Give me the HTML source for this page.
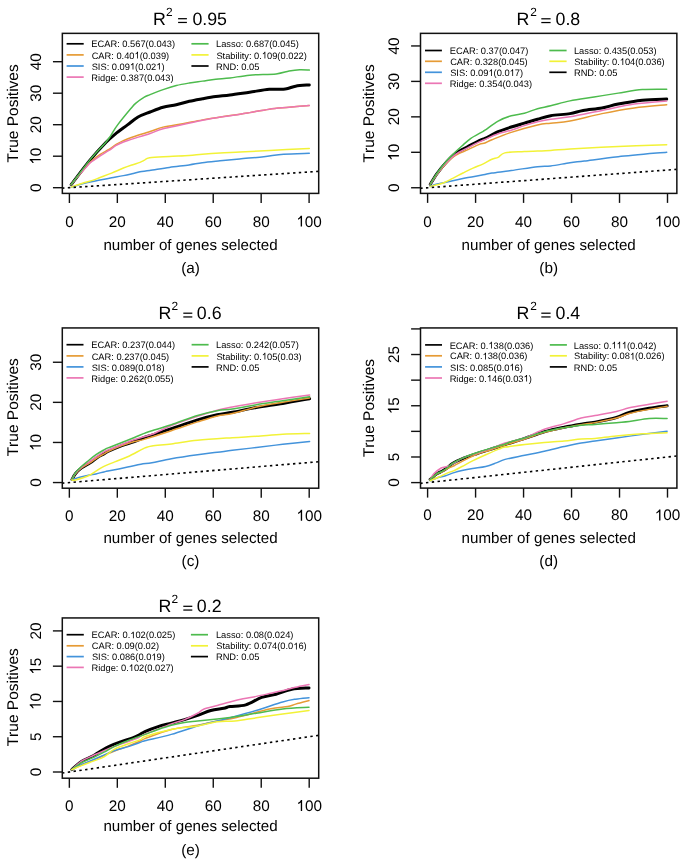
<!DOCTYPE html><html><head><meta charset="utf-8"><style>
html,body{margin:0;padding:0;background:#fff;}
svg{display:block;will-change:transform;}
text{font-kerning:none;text-rendering:geometricPrecision;font-family:"Liberation Sans", sans-serif;fill:#000;}
</style></head><body>
<svg width="685" height="860" viewBox="0 0 685 860">
<rect width="685" height="860" fill="#fff"/>
<clipPath id="clipa"><rect x="62.35" y="33.36" width="256.35" height="160.04"/></clipPath>
<g clip-path="url(#clipa)" fill="none" stroke-linejoin="round" stroke-linecap="round">
<path d="M71.2,184.61 C74.33,180.54 84.19,167.2 89.96,160.19 C95.74,153.19 101.63,146.91 105.84,142.56 C110.05,138.2 111.61,136.99 115.22,134.05 C118.82,131.11 123.67,127.75 127.48,124.91 C131.29,122.08 134.3,119.19 138.06,117.04 C141.83,114.89 145.92,113.63 150.09,112 C154.26,110.37 158.71,108.48 163.08,107.27 C167.45,106.07 171.93,105.75 176.3,104.75 C180.67,103.76 184.92,102.29 189.29,101.29 C193.66,100.29 198.11,99.56 202.52,98.77 C206.93,97.98 211.18,97.19 215.75,96.56 C220.31,95.94 224.28,95.72 229.94,94.99 C235.59,94.25 243.08,93.1 249.66,92.16 C256.23,91.21 263.44,89.84 269.38,89.32 C275.31,88.79 280.88,89.53 285.25,89 C289.62,88.48 291.58,86.85 295.59,86.17 C299.6,85.49 307.02,85.12 309.3,84.91" stroke="#000000" stroke-width="3.0"/>
<path d="M71.2,184.61 C72.41,183.11 76.06,178.44 78.42,175.63 C80.78,172.82 83.35,170.06 85.39,167.75 C87.44,165.44 88.28,163.97 90.69,161.77 C93.09,159.56 96.78,156.57 99.82,154.53 C102.87,152.48 106.24,151.17 108.96,149.49 C111.69,147.81 113.77,145.91 116.18,144.44 C118.58,142.97 120.75,141.87 123.39,140.66 C126.04,139.46 127.6,138.72 132.05,137.2 C136.5,135.68 144.92,133.21 150.09,131.53 C155.26,129.85 157.62,128.43 163.08,127.12 C168.53,125.81 176.22,124.86 182.8,123.66 C189.37,122.45 195.94,121.03 202.52,119.88 C209.09,118.72 215.99,117.67 222.24,116.72 C228.49,115.78 235.47,114.89 240.04,114.2 C244.61,113.52 244.77,113.47 249.66,112.63 C254.55,111.79 262.8,110.06 269.38,109.17 C275.95,108.27 282.44,107.91 289.1,107.27 C295.75,106.64 305.93,105.7 309.3,105.38" stroke="#E69B35" stroke-width="1.5"/>
<path d="M71.2,187.13 C73.93,186.37 82.75,183.74 87.56,182.56 C92.37,181.38 96.06,180.83 100.06,180.04 C104.07,179.25 107.72,178.57 111.61,177.83 C115.5,177.1 119.99,176.31 123.39,175.63 C126.8,174.95 129.29,174.37 132.05,173.74 C134.82,173.11 137.06,172.38 139.99,171.85 C142.91,171.32 144.72,171.32 149.61,170.59 C154.5,169.86 162.76,168.38 169.33,167.44 C175.9,166.5 183.56,165.71 189.05,164.92 C194.54,164.13 197.11,163.4 202.28,162.72 C207.45,162.03 213.86,161.45 220.07,160.82 C226.29,160.19 232.26,159.62 239.56,158.94 C246.85,158.25 256.51,157.52 263.85,156.73 C271.18,155.94 275.99,154.79 283.57,154.21 C291.14,153.63 305.01,153.42 309.3,153.26" stroke="#4393DB" stroke-width="1.5"/>
<path d="M71.2,184.61 C72.41,183.11 76.06,178.39 78.42,175.63 C80.78,172.87 83.35,170.27 85.39,168.07 C87.44,165.87 88.28,164.4 90.69,162.4 C93.09,160.41 96.78,158.09 99.82,156.1 C102.87,154.1 106.24,152.22 108.96,150.43 C111.69,148.65 113.77,146.81 116.18,145.39 C118.58,143.97 120.75,142.98 123.39,141.93 C126.04,140.88 127.6,140.51 132.05,139.09 C136.5,137.67 144.92,135.15 150.09,133.42 C155.26,131.69 157.62,130.16 163.08,128.69 C168.53,127.22 176.22,126.02 182.8,124.6 C189.37,123.18 195.94,121.5 202.52,120.19 C209.09,118.88 215.99,117.72 222.24,116.72 C228.49,115.73 235.47,114.89 240.04,114.2 C244.61,113.52 244.77,113.47 249.66,112.63 C254.55,111.79 262.8,110.06 269.38,109.17 C275.95,108.27 282.44,107.91 289.1,107.27 C295.75,106.64 305.93,105.7 309.3,105.38" stroke="#EB76B4" stroke-width="1.5"/>
<path d="M71.2,184.61 C74.33,180.49 84.19,166.94 89.96,159.88 C95.74,152.82 102.35,146.34 105.84,142.24 C109.32,138.15 108.92,138.2 110.89,135.31 C112.85,132.42 114.29,129.38 117.62,124.91 C120.95,120.45 127.8,112.16 130.85,108.53 C133.9,104.91 133.65,105.07 135.9,103.18 C138.14,101.29 141.95,98.61 144.32,97.19 C146.68,95.78 146.96,95.94 150.09,94.67 C153.22,93.41 158.71,91.16 163.08,89.63 C167.45,88.11 171.93,86.64 176.3,85.54 C180.67,84.44 184.92,83.75 189.29,83.02 C193.66,82.28 198.11,81.76 202.52,81.13 C206.93,80.5 211.18,79.77 215.75,79.24 C220.31,78.71 224.28,78.66 229.94,77.98 C235.59,77.3 241.96,75.83 249.66,75.14 C257.35,74.46 269.54,74.57 276.11,73.88 C282.68,73.2 285.17,71.73 289.1,71.05 C293.03,70.37 296.31,69.95 299.68,69.79 C303.05,69.63 307.7,70.05 309.3,70.11" stroke="#4DBB4D" stroke-width="1.5"/>
<path d="M71.2,187.13 C73.09,186.47 78.94,184.32 82.51,183.19 C86.08,182.06 89.68,181.3 92.61,180.35 C95.54,179.41 96.9,178.73 100.06,177.52 C103.23,176.31 107.72,174.68 111.61,173.11 C115.5,171.53 119.99,169.44 123.39,168.07 C126.8,166.7 129.29,165.86 132.05,164.92 C134.82,163.97 137.9,163.19 139.99,162.4 C142.07,161.61 142.95,160.98 144.56,160.19 C146.16,159.41 145.48,158.3 149.61,157.67 C153.74,157.04 162.76,156.78 169.33,156.41 C175.9,156.05 183.56,155.84 189.05,155.47 C194.54,155.1 197.11,154.63 202.28,154.21 C207.45,153.79 213.78,153.32 220.07,152.95 C226.37,152.58 231.74,152.42 240.04,152 C248.33,151.59 258.31,151.01 269.86,150.43 C281.4,149.85 302.73,148.85 309.3,148.54" stroke="#F2F237" stroke-width="1.5"/>
<line x1="62.35" y1="188.16" x2="318.7" y2="171.32" stroke="#000" stroke-width="1.6" stroke-dasharray="2.400 3.387" stroke-dashoffset="0.3" stroke-linecap="butt"/>
</g>
<rect x="62.35" y="33.36" width="256.35" height="160.04" fill="none" stroke="#111" stroke-width="1.5"/>
<line x1="69.4" y1="193.4" x2="69.4" y2="203" stroke="#111" stroke-width="1.4"/>
<text x="65.15" y="226.60" font-size="15.3" fill="#000">0</text>
<line x1="117.34" y1="193.4" x2="117.34" y2="203" stroke="#111" stroke-width="1.4"/>
<text x="108.83" y="226.60" font-size="15.3" fill="#000">20</text>
<line x1="165.28" y1="193.4" x2="165.28" y2="203" stroke="#111" stroke-width="1.4"/>
<text x="156.77" y="226.60" font-size="15.3" fill="#000">40</text>
<line x1="213.22" y1="193.4" x2="213.22" y2="203" stroke="#111" stroke-width="1.4"/>
<text x="204.71" y="226.60" font-size="15.3" fill="#000">60</text>
<line x1="261.16" y1="193.4" x2="261.16" y2="203" stroke="#111" stroke-width="1.4"/>
<text x="252.65" y="226.60" font-size="15.3" fill="#000">80</text>
<line x1="309.1" y1="193.4" x2="309.1" y2="203" stroke="#111" stroke-width="1.4"/>
<text x="296.34" y="226.60" font-size="15.3" fill="#000"> 00</text><polygon points="302.04,226.60 300.69,226.60 300.69,218.03 300.07,218.57 299.32,219.05 298.58,219.47 298.00,219.69 298.00,218.38 298.80,217.93 299.62,217.26 300.22,216.59 300.59,215.99 300.74,215.65 302.04,215.65" fill="#000"/>
<line x1="52.95" y1="187.7" x2="62.35" y2="187.7" stroke="#111" stroke-width="1.4"/>
<line x1="52.95" y1="156.2" x2="62.35" y2="156.2" stroke="#111" stroke-width="1.4"/>
<line x1="52.95" y1="124.7" x2="62.35" y2="124.7" stroke="#111" stroke-width="1.4"/>
<line x1="52.95" y1="93.2" x2="62.35" y2="93.2" stroke="#111" stroke-width="1.4"/>
<line x1="52.95" y1="61.7" x2="62.35" y2="61.7" stroke="#111" stroke-width="1.4"/>
<g transform="translate(40.70,187.70) rotate(-90)"><text x="-4.25" y="0.00" font-size="15.3" fill="#000">0</text></g>
<g transform="translate(40.70,156.20) rotate(-90)"><text x="-8.51" y="0.00" font-size="15.3" fill="#000"> 0</text><polygon points="-2.81,0.00 -4.15,0.00 -4.15,-8.57 -4.77,-8.03 -5.52,-7.55 -6.27,-7.13 -6.84,-6.91 -6.84,-8.22 -6.04,-8.67 -5.22,-9.34 -4.62,-10.01 -4.25,-10.61 -4.10,-10.95 -2.81,-10.95" fill="#000"/></g>
<g transform="translate(40.70,124.70) rotate(-90)"><text x="-8.51" y="0.00" font-size="15.3" fill="#000">20</text></g>
<g transform="translate(40.70,93.20) rotate(-90)"><text x="-8.51" y="0.00" font-size="15.3" fill="#000">30</text></g>
<g transform="translate(40.70,61.70) rotate(-90)"><text x="-8.51" y="0.00" font-size="15.3" fill="#000">40</text></g>
<text transform="translate(17.6,113.38) rotate(-90)" text-anchor="middle" font-size="15.5">True Positives</text>
<text x="190.53" y="250" text-anchor="middle" font-size="15.15">number of genes selected</text>
<text x="190.53" y="273.4" text-anchor="middle" font-size="15.3">(a)</text>
<text x="152.94" y="24.6" font-size="17.8">R</text>
<text x="165.91" y="15.51" font-size="11.9">2</text>
<line x1="178.1" y1="18.7" x2="186.9" y2="18.7" stroke="#000" stroke-width="1.25"/>
<line x1="178.1" y1="22.45" x2="186.9" y2="22.45" stroke="#000" stroke-width="1.25"/>
<text x="192.41" y="24.6" font-size="17.8">0.95</text>
<line x1="66.6" y1="43.8" x2="83.7" y2="43.8" stroke="#000000" stroke-width="1.7"/>
<text x="91.34" y="47.40" font-size="9.3" fill="#000">ECAR: 0.567(0.043)</text>
<line x1="66.6" y1="54.9" x2="83.7" y2="54.9" stroke="#E69B35" stroke-width="1.7"/>
<text x="91.63" y="58.50" font-size="9.3" fill="#000">CAR: 0.40 (0.039)</text><polygon points="138.00,58.50 137.19,58.50 137.19,53.29 136.81,53.62 136.35,53.91 135.90,54.16 135.55,54.30 135.55,53.50 136.04,53.23 136.54,52.82 136.90,52.42 137.13,52.05 137.22,51.84 138.00,51.84" fill="#000"/>
<line x1="66.6" y1="66" x2="83.7" y2="66" stroke="#4393DB" stroke-width="1.7"/>
<text x="91.68" y="69.60" font-size="9.3" fill="#000">SIS: 0.09 (0.02 )</text><polygon points="133.40,69.60 132.59,69.60 132.59,64.39 132.21,64.72 131.76,65.01 131.30,65.26 130.95,65.40 130.95,64.60 131.44,64.33 131.94,63.92 132.30,63.52 132.53,63.15 132.62,62.94 133.40,62.94" fill="#000"/><polygon points="159.77,69.60 158.96,69.60 158.96,64.39 158.58,64.72 158.13,65.01 157.67,65.26 157.32,65.40 157.32,64.60 157.81,64.33 158.31,63.92 158.67,63.52 158.90,63.15 158.99,62.94 159.77,62.94" fill="#000"/>
<line x1="66.6" y1="77.1" x2="83.7" y2="77.1" stroke="#EB76B4" stroke-width="1.7"/>
<text x="91.34" y="80.70" font-size="9.3" fill="#000">Ridge: 0.387(0.043)</text>
<line x1="191.4" y1="43.8" x2="208.6" y2="43.8" stroke="#4DBB4D" stroke-width="1.7"/>
<text x="216.04" y="47.40" font-size="9.3" fill="#000">Lasso: 0.687(0.045)</text>
<line x1="191.4" y1="54.9" x2="208.6" y2="54.9" stroke="#F2F237" stroke-width="1.7"/>
<text x="216.38" y="58.50" font-size="9.3" fill="#000">Stability: 0. 09(0.022)</text><polygon points="265.33,58.50 264.52,58.50 264.52,53.29 264.14,53.62 263.69,53.91 263.23,54.16 262.88,54.30 262.88,53.50 263.37,53.23 263.87,52.82 264.23,52.42 264.46,52.05 264.55,51.84 265.33,51.84" fill="#000"/>
<line x1="191.4" y1="66" x2="208.6" y2="66" stroke="#000000" stroke-width="1.7"/>
<text x="216.04" y="69.60" font-size="9.3" fill="#000">RND: 0.05</text>
<clipPath id="clipb"><rect x="420.5" y="33.36" width="256.35" height="160.04"/></clipPath>
<g clip-path="url(#clipb)" fill="none" stroke-linejoin="round" stroke-linecap="round">
<path d="M430.29,184.32 C431.44,182.49 434.51,177.07 437.21,173.36 C439.92,169.65 443.46,165.35 446.53,162.05 C449.59,158.75 452.02,156.16 455.6,153.56 C459.18,150.97 464.08,148.67 468.02,146.49 C471.96,144.31 476.42,141.84 479.24,140.48 C482.07,139.13 482.86,139.31 484.97,138.36 C487.08,137.42 489.71,135.95 491.9,134.83 C494.09,133.71 494.88,132.94 498.11,131.65 C501.33,130.35 506.86,128.47 511.24,127.05 C515.62,125.64 520,124.46 524.38,123.16 C528.75,121.87 533.13,120.51 537.51,119.27 C541.89,118.04 545.23,116.68 550.64,115.74 C556.06,114.8 564.57,114.5 569.99,113.62 C575.4,112.73 577.79,111.38 583.12,110.44 C588.45,109.49 596.13,109.02 601.99,107.96 C607.84,106.9 611.5,105.37 618.22,104.07 C624.95,102.78 634.26,101.01 642.34,100.19 C650.42,99.36 662.64,99.3 666.7,99.12" stroke="#000000" stroke-width="3.0"/>
<path d="M430.29,184.32 C431.44,182.61 434.51,177.6 437.21,174.07 C439.92,170.53 443.46,166.23 446.53,163.11 C449.59,159.99 452.02,157.57 455.6,155.33 C459.18,153.09 464.08,151.5 468.02,149.68 C471.96,147.85 476.42,145.49 479.24,144.37 C482.07,143.25 482.86,143.72 484.97,142.96 C487.08,142.19 487.52,141.55 491.9,139.78 C496.28,138.01 503.64,134.83 511.24,132.35 C518.84,129.88 530.94,126.46 537.51,124.93 C544.08,123.4 545.23,123.81 550.64,123.16 C556.06,122.51 561.43,122.63 569.99,121.04 C578.54,119.45 591.28,115.8 601.99,113.62 C612.69,111.44 623.44,109.44 634.22,107.96 C645.01,106.49 661.29,105.31 666.7,104.78" stroke="#E69B35" stroke-width="1.5"/>
<path d="M430.29,186.44 C431.44,186.03 433.47,184.91 437.21,183.97 C440.95,183.02 447.6,181.84 452.74,180.78 C457.87,179.72 462.92,178.6 468.02,177.6 C473.11,176.6 479.32,175.54 483.3,174.77 C487.28,174.01 487.24,173.71 491.9,173.01 C496.55,172.3 503.64,171.59 511.24,170.53 C518.84,169.47 530.94,167.41 537.51,166.64 C544.08,165.88 545.23,166.58 550.64,165.94 C556.06,165.29 564.37,163.58 569.99,162.75 C575.6,161.93 576.27,161.99 584.31,160.99 C592.35,159.99 604.49,158.22 618.22,156.75 C631.95,155.27 658.62,152.92 666.7,152.15" stroke="#4393DB" stroke-width="1.5"/>
<path d="M430.29,184.32 C431.44,182.55 434.51,177.37 437.21,173.71 C439.92,170.06 443.46,165.64 446.53,162.4 C449.59,159.16 452.02,156.75 455.6,154.27 C459.18,151.8 464.08,149.62 468.02,147.55 C471.96,145.49 476.42,143.25 479.24,141.9 C482.07,140.54 481.83,140.78 484.97,139.42 C488.12,138.07 493.73,135.3 498.11,133.77 C502.49,132.24 506.86,131.59 511.24,130.23 C515.62,128.88 520,127.05 524.38,125.64 C528.75,124.22 533.13,122.81 537.51,121.75 C541.89,120.69 545.23,120.1 550.64,119.27 C556.06,118.45 561.43,118.27 569.99,116.8 C578.54,115.33 591.28,112.56 601.99,110.44 C612.69,108.32 623.44,105.66 634.22,104.07 C645.01,102.48 661.29,101.42 666.7,100.89" stroke="#EB76B4" stroke-width="1.5"/>
<path d="M430.29,184.32 C431.44,182.43 434.51,176.89 437.21,173.01 C439.92,169.12 443.46,164.52 446.53,160.99 C449.59,157.45 452.85,154.45 455.6,151.8 C458.35,149.15 460.46,147.32 463,145.08 C465.55,142.84 467.82,140.48 470.88,138.36 C473.95,136.24 479.04,133.71 481.39,132.35 C483.74,131 482.19,132.12 484.97,130.23 C487.76,128.35 493.73,123.46 498.11,121.04 C502.49,118.63 506.86,117.04 511.24,115.74 C515.62,114.44 520,114.44 524.38,113.27 C528.75,112.09 533.13,109.91 537.51,108.67 C541.89,107.43 545.23,107.14 550.64,105.84 C556.06,104.55 562.74,102.37 569.99,100.89 C577.23,99.42 586.07,98.3 594.1,97 C602.14,95.71 610.18,94.35 618.22,93.12 C626.26,91.88 634.26,90.23 642.34,89.58 C650.42,88.93 662.64,89.29 666.7,89.23" stroke="#4DBB4D" stroke-width="1.5"/>
<path d="M430.29,186.44 C432.32,185.91 438.73,184.61 442.47,183.26 C446.21,181.9 449.31,180.02 452.74,178.31 C456.16,176.6 459.62,174.72 463,173.01 C466.39,171.3 469.65,169.59 473.03,168.06 C476.42,166.53 480.16,165.29 483.3,163.82 C486.45,162.34 489.43,160.28 491.9,159.22 C494.37,158.16 495.96,158.51 498.11,157.45 C500.26,156.39 500.42,153.86 504.79,152.86 C509.17,151.86 516.73,151.86 524.38,151.44 C532.02,151.03 543.04,150.79 550.64,150.38 C558.25,149.97 558.72,149.62 569.99,148.97 C581.25,148.32 602.1,147.2 618.22,146.49 C634.34,145.79 658.62,145.02 666.7,144.73" stroke="#F2F237" stroke-width="1.5"/>
<line x1="420.5" y1="188.27" x2="676.85" y2="169.33" stroke="#000" stroke-width="1.6" stroke-dasharray="2.400 3.391" stroke-dashoffset="0.3" stroke-linecap="butt"/>
</g>
<rect x="420.5" y="33.36" width="256.35" height="160.04" fill="none" stroke="#111" stroke-width="1.5"/>
<line x1="427.6" y1="193.4" x2="427.6" y2="202.9" stroke="#111" stroke-width="1.4"/>
<text x="423.35" y="226.60" font-size="15.3" fill="#000">0</text>
<line x1="475.58" y1="193.4" x2="475.58" y2="202.9" stroke="#111" stroke-width="1.4"/>
<text x="467.07" y="226.60" font-size="15.3" fill="#000">20</text>
<line x1="523.56" y1="193.4" x2="523.56" y2="202.9" stroke="#111" stroke-width="1.4"/>
<text x="515.05" y="226.60" font-size="15.3" fill="#000">40</text>
<line x1="571.54" y1="193.4" x2="571.54" y2="202.9" stroke="#111" stroke-width="1.4"/>
<text x="563.03" y="226.60" font-size="15.3" fill="#000">60</text>
<line x1="619.52" y1="193.4" x2="619.52" y2="202.9" stroke="#111" stroke-width="1.4"/>
<text x="611.01" y="226.60" font-size="15.3" fill="#000">80</text>
<line x1="667.5" y1="193.4" x2="667.5" y2="202.9" stroke="#111" stroke-width="1.4"/>
<text x="654.74" y="226.60" font-size="15.3" fill="#000"> 00</text><polygon points="660.44,226.60 659.09,226.60 659.09,218.03 658.47,218.57 657.72,219.05 656.98,219.47 656.40,219.69 656.40,218.38 657.20,217.93 658.02,217.26 658.62,216.59 658.99,215.99 659.14,215.65 660.44,215.65" fill="#000"/>
<line x1="411.1" y1="187.75" x2="420.5" y2="187.75" stroke="#111" stroke-width="1.4"/>
<line x1="411.1" y1="152.3" x2="420.5" y2="152.3" stroke="#111" stroke-width="1.4"/>
<line x1="411.1" y1="116.85" x2="420.5" y2="116.85" stroke="#111" stroke-width="1.4"/>
<line x1="411.1" y1="81.4" x2="420.5" y2="81.4" stroke="#111" stroke-width="1.4"/>
<line x1="411.1" y1="45.95" x2="420.5" y2="45.95" stroke="#111" stroke-width="1.4"/>
<g transform="translate(398.90,187.75) rotate(-90)"><text x="-4.25" y="0.00" font-size="15.3" fill="#000">0</text></g>
<g transform="translate(398.90,152.30) rotate(-90)"><text x="-8.51" y="0.00" font-size="15.3" fill="#000"> 0</text><polygon points="-2.81,0.00 -4.15,0.00 -4.15,-8.57 -4.77,-8.03 -5.52,-7.55 -6.27,-7.13 -6.84,-6.91 -6.84,-8.22 -6.04,-8.67 -5.22,-9.34 -4.62,-10.01 -4.25,-10.61 -4.10,-10.95 -2.81,-10.95" fill="#000"/></g>
<g transform="translate(398.90,116.85) rotate(-90)"><text x="-8.51" y="0.00" font-size="15.3" fill="#000">20</text></g>
<g transform="translate(398.90,81.40) rotate(-90)"><text x="-8.51" y="0.00" font-size="15.3" fill="#000">30</text></g>
<g transform="translate(398.90,45.95) rotate(-90)"><text x="-8.51" y="0.00" font-size="15.3" fill="#000">40</text></g>
<text transform="translate(373.6,113.38) rotate(-90)" text-anchor="middle" font-size="15.5">True Positives</text>
<text x="548.67" y="250.3" text-anchor="middle" font-size="15.15">number of genes selected</text>
<text x="548.67" y="273.4" text-anchor="middle" font-size="15.3">(b)</text>
<text x="516.54" y="24.7" font-size="17.8">R</text>
<text x="530.3" y="15.71" font-size="11.9">2</text>
<line x1="541.3" y1="18.8" x2="550.6" y2="18.8" stroke="#000" stroke-width="1.25"/>
<line x1="541.3" y1="22.55" x2="550.6" y2="22.55" stroke="#000" stroke-width="1.25"/>
<text x="555.51" y="24.7" font-size="17.8">0.8</text>
<line x1="425" y1="50.5" x2="441.9" y2="50.5" stroke="#000000" stroke-width="1.7"/>
<text x="449.84" y="54.10" font-size="9.3" fill="#000">ECAR: 0.37(0.047)</text>
<line x1="425" y1="61.3" x2="441.9" y2="61.3" stroke="#E69B35" stroke-width="1.7"/>
<text x="450.14" y="64.90" font-size="9.3" fill="#000">CAR: 0.328(0.045)</text>
<line x1="425" y1="72.3" x2="441.9" y2="72.3" stroke="#4393DB" stroke-width="1.7"/>
<text x="450.18" y="75.90" font-size="9.3" fill="#000">SIS: 0.09 (0.0 7)</text><polygon points="491.90,75.90 491.09,75.90 491.09,70.69 490.71,71.02 490.26,71.31 489.80,71.56 489.45,71.70 489.45,70.90 489.94,70.63 490.44,70.22 490.80,69.82 491.03,69.45 491.12,69.24 491.90,69.24" fill="#000"/><polygon points="513.10,75.90 512.28,75.90 512.28,70.69 511.91,71.02 511.45,71.31 511.00,71.56 510.65,71.70 510.65,70.90 511.14,70.63 511.64,70.22 512.00,69.82 512.23,69.45 512.32,69.24 513.10,69.24" fill="#000"/>
<line x1="425" y1="83.3" x2="441.9" y2="83.3" stroke="#EB76B4" stroke-width="1.7"/>
<text x="449.84" y="86.90" font-size="9.3" fill="#000">Ridge: 0.354(0.043)</text>
<line x1="549.3" y1="50.5" x2="566.6" y2="50.5" stroke="#4DBB4D" stroke-width="1.7"/>
<text x="573.94" y="54.10" font-size="9.3" fill="#000">Lasso: 0.435(0.053)</text>
<line x1="549.3" y1="61.3" x2="566.6" y2="61.3" stroke="#F2F237" stroke-width="1.7"/>
<text x="574.28" y="64.90" font-size="9.3" fill="#000">Stability: 0. 04(0.036)</text><polygon points="623.23,64.90 622.42,64.90 622.42,59.69 622.04,60.02 621.59,60.31 621.13,60.56 620.78,60.70 620.78,59.90 621.27,59.63 621.77,59.22 622.13,58.82 622.36,58.45 622.45,58.24 623.23,58.24" fill="#000"/>
<line x1="549.3" y1="72.3" x2="566.6" y2="72.3" stroke="#000000" stroke-width="1.7"/>
<text x="573.94" y="75.90" font-size="9.3" fill="#000">RND: 0.05</text>
<clipPath id="clipc"><rect x="62.3" y="327.94" width="256.4" height="160.26"/></clipPath>
<g clip-path="url(#clipc)" fill="none" stroke-linejoin="round" stroke-linecap="round">
<path d="M72,479.5 C72.6,478.5 74,475.43 75.6,473.5 C77.2,471.57 79.16,469.7 81.6,467.9 C84.04,466.1 87.6,464.43 90.24,462.7 C92.88,460.97 95.16,458.97 97.44,457.5 C99.72,456.03 102.16,454.9 103.92,453.9 C105.68,452.9 105.12,452.83 108,451.5 C110.88,450.17 116.8,447.57 121.2,445.9 C125.6,444.23 130.44,442.97 134.4,441.5 C138.36,440.03 142.04,438.17 144.96,437.1 C147.88,436.03 147.52,436.5 151.92,435.1 C156.32,433.7 163.76,431.23 171.36,428.7 C178.96,426.17 189.88,422.23 197.52,419.9 C205.16,417.57 211.4,415.97 217.2,414.7 C223,413.43 225.8,413.5 232.32,412.3 C238.84,411.1 247.92,408.97 256.32,407.5 C264.72,406.03 273.84,404.97 282.72,403.5 C291.6,402.03 305.12,399.5 309.6,398.7" stroke="#000000" stroke-width="3.0"/>
<path d="M72,479.5 C72.6,478.5 74,475.43 75.6,473.5 C77.2,471.57 79.16,469.7 81.6,467.9 C84.04,466.1 87.6,464.43 90.24,462.7 C92.88,460.97 95.16,458.97 97.44,457.5 C99.72,456.03 102.16,454.9 103.92,453.9 C105.68,452.9 105.12,452.83 108,451.5 C110.88,450.17 116.8,447.57 121.2,445.9 C125.6,444.23 130.44,442.63 134.4,441.5 C138.36,440.37 138.8,440.9 144.96,439.1 C151.12,437.3 162.6,433.57 171.36,430.7 C180.12,427.83 189.88,424.37 197.52,421.9 C205.16,419.43 211.4,417.3 217.2,415.9 C223,414.5 225.8,414.97 232.32,413.5 C238.84,412.03 247.92,408.97 256.32,407.1 C264.72,405.23 273.84,403.83 282.72,402.3 C291.6,400.77 305.12,398.63 309.6,397.9" stroke="#E69B35" stroke-width="1.5"/>
<path d="M72,480.1 C72.6,479.83 73.04,479.27 75.6,478.5 C78.16,477.73 83.96,476.27 87.36,475.5 C90.76,474.73 93.24,474.5 96,473.9 C98.76,473.3 101.92,472.37 103.92,471.9 C105.92,471.43 104.04,471.9 108,471.1 C111.96,470.3 122.2,468.23 127.68,467.1 C133.16,465.97 136.84,465.03 140.88,464.3 C144.92,463.57 146.84,463.63 151.92,462.7 C157,461.77 163.76,460.03 171.36,458.7 C178.96,457.37 189.88,455.77 197.52,454.7 C205.16,453.63 211.4,453.03 217.2,452.3 C223,451.57 225.8,451.1 232.32,450.3 C238.84,449.5 247.92,448.5 256.32,447.5 C264.72,446.5 273.84,445.3 282.72,444.3 C291.6,443.3 305.12,441.97 309.6,441.5" stroke="#4393DB" stroke-width="1.5"/>
<path d="M72,479.5 C72.6,478.43 74,475.17 75.6,473.1 C77.2,471.03 79.16,469.1 81.6,467.1 C84.04,465.1 87.6,462.97 90.24,461.1 C92.88,459.23 95.16,457.43 97.44,455.9 C99.72,454.37 102.16,452.9 103.92,451.9 C105.68,450.9 105.12,451.1 108,449.9 C110.88,448.7 116.8,446.43 121.2,444.7 C125.6,442.97 129.28,441.23 134.4,439.5 C139.52,437.77 145.76,436.63 151.92,434.3 C158.08,431.97 163.76,428.5 171.36,425.5 C178.96,422.5 189.88,418.83 197.52,416.3 C205.16,413.77 211.4,411.83 217.2,410.3 C223,408.77 225.8,408.37 232.32,407.1 C238.84,405.83 247.92,404.1 256.32,402.7 C264.72,401.3 273.84,399.97 282.72,398.7 C291.6,397.43 305.12,395.7 309.6,395.1" stroke="#EB76B4" stroke-width="1.5"/>
<path d="M72,479.5 C72.6,478.37 74,474.9 75.6,472.7 C77.2,470.5 79.64,468.17 81.6,466.3 C83.56,464.43 84.96,463.43 87.36,461.5 C89.76,459.57 93.24,456.63 96,454.7 C98.76,452.77 101.92,451.03 103.92,449.9 C105.92,448.77 105.12,449.1 108,447.9 C110.88,446.7 116.8,444.43 121.2,442.7 C125.6,440.97 130.44,439.1 134.4,437.5 C138.36,435.9 142.04,434.23 144.96,433.1 C147.88,431.97 147.52,432.1 151.92,430.7 C156.32,429.3 163.76,427.23 171.36,424.7 C178.96,422.17 189.88,417.83 197.52,415.5 C205.16,413.17 211.4,411.77 217.2,410.7 C223,409.63 225.8,410.1 232.32,409.1 C238.84,408.1 247.92,406.1 256.32,404.7 C264.72,403.3 273.84,402.03 282.72,400.7 C291.6,399.37 305.12,397.37 309.6,396.7" stroke="#4DBB4D" stroke-width="1.5"/>
<path d="M72,480.1 C72.6,480.07 73.04,480.53 75.6,479.9 C78.16,479.27 83.96,477.77 87.36,476.3 C90.76,474.83 93.24,472.77 96,471.1 C98.76,469.43 100.8,467.83 103.92,466.3 C107.04,464.77 110.76,463.5 114.72,461.9 C118.68,460.3 123.32,458.7 127.68,456.7 C132.04,454.7 138,451.37 140.88,449.9 C143.76,448.43 143.12,448.57 144.96,447.9 C146.8,447.23 147.52,446.57 151.92,445.9 C156.32,445.23 163.76,444.83 171.36,443.9 C178.96,442.97 187.36,441.33 197.52,440.3 C207.68,439.27 222.52,438.37 232.32,437.7 C242.12,437.03 247.92,436.87 256.32,436.3 C264.72,435.73 273.84,434.77 282.72,434.3 C291.6,433.83 305.12,433.63 309.6,433.5" stroke="#F2F237" stroke-width="1.5"/>
<line x1="62.3" y1="483.14" x2="318.7" y2="461.71" stroke="#000" stroke-width="1.6" stroke-dasharray="2.400 3.395" stroke-dashoffset="0.3" stroke-linecap="butt"/>
</g>
<rect x="62.3" y="327.94" width="256.4" height="160.26" fill="none" stroke="#111" stroke-width="1.5"/>
<line x1="69.35" y1="488.2" x2="69.35" y2="497.7" stroke="#111" stroke-width="1.4"/>
<text x="65.10" y="520.80" font-size="15.3" fill="#000">0</text>
<line x1="117.32" y1="488.2" x2="117.32" y2="497.7" stroke="#111" stroke-width="1.4"/>
<text x="108.81" y="520.80" font-size="15.3" fill="#000">20</text>
<line x1="165.29" y1="488.2" x2="165.29" y2="497.7" stroke="#111" stroke-width="1.4"/>
<text x="156.78" y="520.80" font-size="15.3" fill="#000">40</text>
<line x1="213.26" y1="488.2" x2="213.26" y2="497.7" stroke="#111" stroke-width="1.4"/>
<text x="204.75" y="520.80" font-size="15.3" fill="#000">60</text>
<line x1="261.23" y1="488.2" x2="261.23" y2="497.7" stroke="#111" stroke-width="1.4"/>
<text x="252.72" y="520.80" font-size="15.3" fill="#000">80</text>
<line x1="309.2" y1="488.2" x2="309.2" y2="497.7" stroke="#111" stroke-width="1.4"/>
<text x="296.44" y="520.80" font-size="15.3" fill="#000"> 00</text><polygon points="302.14,520.80 300.79,520.80 300.79,512.23 300.17,512.77 299.42,513.25 298.68,513.67 298.10,513.89 298.10,512.58 298.90,512.13 299.72,511.46 300.32,510.79 300.69,510.19 300.84,509.85 302.14,509.85" fill="#000"/>
<line x1="52.9" y1="482.55" x2="62.3" y2="482.55" stroke="#111" stroke-width="1.4"/>
<line x1="52.9" y1="442.45" x2="62.3" y2="442.45" stroke="#111" stroke-width="1.4"/>
<line x1="52.9" y1="402.35" x2="62.3" y2="402.35" stroke="#111" stroke-width="1.4"/>
<line x1="52.9" y1="362.25" x2="62.3" y2="362.25" stroke="#111" stroke-width="1.4"/>
<g transform="translate(40.80,482.55) rotate(-90)"><text x="-4.25" y="0.00" font-size="15.3" fill="#000">0</text></g>
<g transform="translate(40.80,442.45) rotate(-90)"><text x="-8.51" y="0.00" font-size="15.3" fill="#000"> 0</text><polygon points="-2.81,0.00 -4.15,0.00 -4.15,-8.57 -4.77,-8.03 -5.52,-7.55 -6.27,-7.13 -6.84,-6.91 -6.84,-8.22 -6.04,-8.67 -5.22,-9.34 -4.62,-10.01 -4.25,-10.61 -4.10,-10.95 -2.81,-10.95" fill="#000"/></g>
<g transform="translate(40.80,402.35) rotate(-90)"><text x="-8.51" y="0.00" font-size="15.3" fill="#000">20</text></g>
<g transform="translate(40.80,362.25) rotate(-90)"><text x="-8.51" y="0.00" font-size="15.3" fill="#000">30</text></g>
<text transform="translate(18.1,407.27) rotate(-90)" text-anchor="middle" font-size="15.5">True Positives</text>
<text x="190.5" y="542.8" text-anchor="middle" font-size="15.15">number of genes selected</text>
<text x="190.5" y="565.6" text-anchor="middle" font-size="15.3">(c)</text>
<text x="158.54" y="319.1" font-size="17.8">R</text>
<text x="171.5" y="310.01" font-size="11.9">2</text>
<line x1="183.3" y1="313.2" x2="192.3" y2="313.2" stroke="#000" stroke-width="1.25"/>
<line x1="183.3" y1="316.95" x2="192.3" y2="316.95" stroke="#000" stroke-width="1.25"/>
<text x="196.81" y="319.1" font-size="17.8">0.6</text>
<line x1="66.5" y1="344.7" x2="83.5" y2="344.7" stroke="#000000" stroke-width="1.7"/>
<text x="91.34" y="348.30" font-size="9.3" fill="#000">ECAR: 0.237(0.044)</text>
<line x1="66.5" y1="355.9" x2="83.5" y2="355.9" stroke="#E69B35" stroke-width="1.7"/>
<text x="91.63" y="359.50" font-size="9.3" fill="#000">CAR: 0.237(0.045)</text>
<line x1="66.5" y1="366.9" x2="83.5" y2="366.9" stroke="#4393DB" stroke-width="1.7"/>
<text x="91.68" y="370.50" font-size="9.3" fill="#000">SIS: 0.089(0.0 8)</text><polygon points="154.60,370.50 153.78,370.50 153.78,365.29 153.41,365.62 152.95,365.91 152.50,366.16 152.15,366.30 152.15,365.50 152.64,365.23 153.14,364.82 153.50,364.42 153.73,364.05 153.82,363.84 154.60,363.84" fill="#000"/>
<line x1="66.5" y1="377.9" x2="83.5" y2="377.9" stroke="#EB76B4" stroke-width="1.7"/>
<text x="91.34" y="381.50" font-size="9.3" fill="#000">Ridge: 0.262(0.055)</text>
<line x1="191.6" y1="344.7" x2="208.6" y2="344.7" stroke="#4DBB4D" stroke-width="1.7"/>
<text x="216.04" y="348.30" font-size="9.3" fill="#000">Lasso: 0.242(0.057)</text>
<line x1="191.6" y1="355.9" x2="208.6" y2="355.9" stroke="#F2F237" stroke-width="1.7"/>
<text x="216.38" y="359.50" font-size="9.3" fill="#000">Stability: 0. 05(0.03)</text><polygon points="265.33,359.50 264.52,359.50 264.52,354.29 264.14,354.62 263.69,354.91 263.23,355.16 262.88,355.30 262.88,354.50 263.37,354.23 263.87,353.82 264.23,353.42 264.46,353.05 264.55,352.84 265.33,352.84" fill="#000"/>
<line x1="191.6" y1="366.9" x2="208.6" y2="366.9" stroke="#000000" stroke-width="1.7"/>
<text x="216.04" y="370.50" font-size="9.3" fill="#000">RND: 0.05</text>
<clipPath id="clipd"><rect x="420.5" y="327.94" width="256.4" height="160.16"/></clipPath>
<g clip-path="url(#clipd)" fill="none" stroke-linejoin="round" stroke-linecap="round">
<path d="M430.19,479.5 C431.27,478.56 434.62,475.29 436.65,473.88 C438.69,472.48 440.44,472.23 442.4,471.08 C444.35,469.93 446.7,468.27 448.38,467 C450.05,465.73 450.17,464.79 452.45,463.43 C454.72,462.07 457.99,460.46 462.02,458.84 C466.05,457.23 472.03,455.27 476.62,453.74 C481.2,452.21 484.79,451.19 489.54,449.66 C494.29,448.13 499.23,446.43 505.09,444.56 C510.96,442.69 518.18,440.56 524.72,438.44 C531.26,436.31 537.76,433.68 544.34,431.81 C550.92,429.94 558.06,428.5 564.2,427.22 C570.34,425.95 576.05,425.01 581.19,424.16 C586.34,423.31 589.21,423.23 595.07,422.12 C600.93,421.01 610.67,419.15 616.37,417.53 C622.07,415.92 623.83,413.96 629.29,412.43 C634.75,410.9 642.85,409.46 649.15,408.35 C655.45,407.25 664.11,406.23 667.1,405.8" stroke="#000000" stroke-width="3.0"/>
<path d="M430.19,479.5 C431.27,478.6 434.62,475.46 436.65,474.14 C438.69,472.82 440.44,472.61 442.4,471.59 C444.35,470.57 446.43,469 448.38,468.02 C450.33,467.04 451.85,466.83 454.12,465.73 C456.4,464.62 458.27,463.3 462.02,461.39 C465.77,459.48 472.03,456.12 476.62,454.25 C481.2,452.38 484.79,451.7 489.54,450.17 C494.29,448.64 499.23,446.94 505.09,445.07 C510.96,443.2 518.18,441.08 524.72,438.95 C531.26,436.83 537.76,434.19 544.34,432.32 C550.92,430.45 558.06,429 564.2,427.73 C570.34,426.46 576.05,425.52 581.19,424.67 C586.34,423.82 589.21,423.74 595.07,422.63 C600.93,421.52 610.67,419.57 616.37,418.04 C622.07,416.51 623.83,414.9 629.29,413.45 C634.75,412.01 642.85,410.56 649.15,409.37 C655.45,408.18 664.11,406.82 667.1,406.31" stroke="#E69B35" stroke-width="1.5"/>
<path d="M430.19,480.77 C431.39,480.26 434.82,478.56 437.37,477.71 C439.92,476.86 442.72,476.52 445.51,475.67 C448.3,474.82 451.37,473.46 454.12,472.61 C456.87,471.76 458.95,471.25 462.02,470.57 C465.09,469.89 468.6,469.21 472.55,468.53 C476.5,467.85 481.76,467.43 485.71,466.49 C489.66,465.56 493.01,464.11 496.24,462.92 C499.47,461.73 500.35,460.62 505.09,459.35 C509.84,458.08 518.18,456.63 524.72,455.27 C531.26,453.91 537.76,452.63 544.34,451.19 C550.92,449.75 558.06,447.96 564.2,446.6 C570.34,445.24 576.05,443.97 581.19,443.03 C586.34,442.1 589.21,441.84 595.07,440.99 C600.93,440.14 608.43,439.04 616.37,437.93 C624.31,436.82 634.24,435.47 642.69,434.36 C651.15,433.25 663.03,431.81 667.1,431.3" stroke="#4393DB" stroke-width="1.5"/>
<path d="M430.19,479.5 C430.79,478.56 431.95,475.8 433.78,473.88 C435.62,471.97 438.97,469.25 441.2,468.02 C443.43,466.79 445.31,467.17 447.18,466.49 C449.06,465.81 449.74,465.38 452.45,463.94 C455.16,462.5 459.43,459.61 463.46,457.82 C467.48,456.03 472.27,454.68 476.62,453.23 C480.96,451.79 484.79,450.85 489.54,449.15 C494.29,447.45 499.23,444.9 505.09,443.03 C510.96,441.16 518.18,440.23 524.72,437.93 C531.26,435.63 537.76,431.64 544.34,429.26 C550.92,426.88 558.06,425.52 564.2,423.65 C570.34,421.78 576.05,419.4 581.19,418.04 C586.34,416.68 589.21,416.6 595.07,415.49 C600.93,414.38 610.67,412.69 616.37,411.41 C622.07,410.14 623.83,409.03 629.29,407.84 C634.75,406.65 642.85,405.38 649.15,404.27 C655.45,403.16 664.11,401.72 667.1,401.21" stroke="#EB76B4" stroke-width="1.5"/>
<path d="M430.19,479.5 C431.27,478.56 434.62,475.29 436.65,473.88 C438.69,472.48 440.44,472.23 442.4,471.08 C444.35,469.93 446.7,468.27 448.38,467 C450.05,465.73 450.17,464.88 452.45,463.43 C454.72,461.99 457.99,460.12 462.02,458.33 C466.05,456.55 472.03,454.34 476.62,452.72 C481.2,451.11 484.79,450.08 489.54,448.64 C494.29,447.19 501.66,445.16 505.09,444.05 C508.52,442.94 506.85,443.03 510.12,442.01 C513.39,440.99 519.01,439.63 524.72,437.93 C530.42,436.23 537.76,433.51 544.34,431.81 C550.92,430.11 558.06,428.84 564.2,427.73 C570.34,426.62 576.05,425.73 581.19,425.18 C586.34,424.63 589.21,424.84 595.07,424.42 C600.93,423.99 610.67,423.1 616.37,422.63 C622.07,422.16 623.83,422.29 629.29,421.61 C634.75,420.93 642.85,419.06 649.15,418.55 C655.45,418.04 664.11,418.55 667.1,418.55" stroke="#4DBB4D" stroke-width="1.5"/>
<path d="M430.19,480.77 C431.75,480.11 436.49,478.15 439.53,476.79 C442.56,475.43 445.95,473.65 448.38,472.61 C450.81,471.57 451.85,471.59 454.12,470.57 C456.4,469.55 458.95,468.11 462.02,466.49 C465.09,464.88 468.6,462.83 472.55,460.88 C476.5,458.93 481.32,456.71 485.71,454.76 C490.1,452.81 495.64,450.43 498.87,449.15 C502.1,447.88 500.79,447.88 505.09,447.11 C509.4,446.35 518.18,445.32 524.72,444.56 C531.26,443.8 537.76,443.12 544.34,442.52 C550.92,441.93 558.06,441.59 564.2,440.99 C570.34,440.39 576.05,439.38 581.19,438.95 C586.34,438.53 589.21,438.95 595.07,438.44 C600.93,437.93 608.43,436.65 616.37,435.89 C624.31,435.12 634.24,434.36 642.69,433.85 C651.15,433.34 663.03,433 667.1,432.83" stroke="#F2F237" stroke-width="1.5"/>
<line x1="420.5" y1="483.36" x2="676.9" y2="455.98" stroke="#000" stroke-width="1.6" stroke-dasharray="2.400 3.408" stroke-dashoffset="0.3" stroke-linecap="butt"/>
</g>
<rect x="420.5" y="327.94" width="256.4" height="160.16" fill="none" stroke="#111" stroke-width="1.5"/>
<line x1="427.6" y1="488.1" x2="427.6" y2="497.6" stroke="#111" stroke-width="1.4"/>
<text x="423.35" y="520.40" font-size="15.3" fill="#000">0</text>
<line x1="475.58" y1="488.1" x2="475.58" y2="497.6" stroke="#111" stroke-width="1.4"/>
<text x="467.07" y="520.40" font-size="15.3" fill="#000">20</text>
<line x1="523.56" y1="488.1" x2="523.56" y2="497.6" stroke="#111" stroke-width="1.4"/>
<text x="515.05" y="520.40" font-size="15.3" fill="#000">40</text>
<line x1="571.54" y1="488.1" x2="571.54" y2="497.6" stroke="#111" stroke-width="1.4"/>
<text x="563.03" y="520.40" font-size="15.3" fill="#000">60</text>
<line x1="619.52" y1="488.1" x2="619.52" y2="497.6" stroke="#111" stroke-width="1.4"/>
<text x="611.01" y="520.40" font-size="15.3" fill="#000">80</text>
<line x1="667.5" y1="488.1" x2="667.5" y2="497.6" stroke="#111" stroke-width="1.4"/>
<text x="654.74" y="520.40" font-size="15.3" fill="#000"> 00</text><polygon points="660.44,520.40 659.09,520.40 659.09,511.83 658.47,512.37 657.72,512.85 656.98,513.27 656.40,513.49 656.40,512.18 657.20,511.73 658.02,511.06 658.62,510.39 658.99,509.79 659.14,509.45 660.44,509.45" fill="#000"/>
<line x1="411.1" y1="482.6" x2="420.5" y2="482.6" stroke="#111" stroke-width="1.4"/>
<line x1="411.1" y1="456.99" x2="420.5" y2="456.99" stroke="#111" stroke-width="1.4"/>
<line x1="411.1" y1="431.37" x2="420.5" y2="431.37" stroke="#111" stroke-width="1.4"/>
<line x1="411.1" y1="405.75" x2="420.5" y2="405.75" stroke="#111" stroke-width="1.4"/>
<line x1="411.1" y1="380.14" x2="420.5" y2="380.14" stroke="#111" stroke-width="1.4"/>
<line x1="411.1" y1="354.52" x2="420.5" y2="354.52" stroke="#111" stroke-width="1.4"/>
<line x1="411.1" y1="328.91" x2="420.5" y2="328.91" stroke="#111" stroke-width="1.4"/>
<g transform="translate(398.80,482.60) rotate(-90)"><text x="-4.25" y="0.00" font-size="15.3" fill="#000">0</text></g>
<g transform="translate(398.80,456.99) rotate(-90)"><text x="-4.25" y="0.00" font-size="15.3" fill="#000">5</text></g>
<g transform="translate(398.80,405.75) rotate(-90)"><text x="-8.51" y="0.00" font-size="15.3" fill="#000"> 5</text><polygon points="-2.81,0.00 -4.15,0.00 -4.15,-8.57 -4.77,-8.03 -5.52,-7.55 -6.27,-7.13 -6.84,-6.91 -6.84,-8.22 -6.04,-8.67 -5.22,-9.34 -4.62,-10.01 -4.25,-10.61 -4.10,-10.95 -2.81,-10.95" fill="#000"/></g>
<g transform="translate(398.80,354.52) rotate(-90)"><text x="-8.51" y="0.00" font-size="15.3" fill="#000">25</text></g>
<text transform="translate(373.6,408.02) rotate(-90)" text-anchor="middle" font-size="15.5">True Positives</text>
<text x="548.7" y="543.2" text-anchor="middle" font-size="15.15">number of genes selected</text>
<text x="548.7" y="566.1" text-anchor="middle" font-size="15.3">(d)</text>
<text x="516.54" y="319.1" font-size="17.8">R</text>
<text x="530.3" y="309.91" font-size="11.9">2</text>
<line x1="541.3" y1="313.2" x2="550.6" y2="313.2" stroke="#000" stroke-width="1.25"/>
<line x1="541.3" y1="316.95" x2="550.6" y2="316.95" stroke="#000" stroke-width="1.25"/>
<text x="555.51" y="319.1" font-size="17.8">0.4</text>
<line x1="425.1" y1="344.9" x2="442" y2="344.9" stroke="#000000" stroke-width="1.7"/>
<text x="449.64" y="348.50" font-size="9.3" fill="#000">ECAR: 0. 38(0.036)</text><polygon points="491.86,348.50 491.05,348.50 491.05,343.29 490.67,343.62 490.22,343.91 489.76,344.16 489.41,344.30 489.41,343.50 489.90,343.23 490.40,342.82 490.76,342.42 490.99,342.05 491.08,341.84 491.86,341.84" fill="#000"/>
<line x1="425.1" y1="355.8" x2="442" y2="355.8" stroke="#E69B35" stroke-width="1.7"/>
<text x="449.94" y="359.40" font-size="9.3" fill="#000">CAR: 0. 38(0.036)</text><polygon points="485.96,359.40 485.14,359.40 485.14,354.19 484.76,354.52 484.31,354.81 483.86,355.06 483.51,355.20 483.51,354.40 483.99,354.13 484.49,353.72 484.86,353.32 485.08,352.95 485.17,352.74 485.96,352.74" fill="#000"/>
<line x1="425.1" y1="366.9" x2="442" y2="366.9" stroke="#4393DB" stroke-width="1.7"/>
<text x="449.98" y="370.50" font-size="9.3" fill="#000">SIS: 0.085(0.0 6)</text><polygon points="512.90,370.50 512.08,370.50 512.08,365.29 511.71,365.62 511.25,365.91 510.80,366.16 510.45,366.30 510.45,365.50 510.94,365.23 511.44,364.82 511.80,364.42 512.03,364.05 512.12,363.84 512.90,363.84" fill="#000"/>
<line x1="425.1" y1="378" x2="442" y2="378" stroke="#EB76B4" stroke-width="1.7"/>
<text x="449.64" y="381.60" font-size="9.3" fill="#000">Ridge: 0. 46(0.03 )</text><polygon points="490.32,381.60 489.51,381.60 489.51,376.39 489.13,376.72 488.68,377.01 488.22,377.26 487.87,377.40 487.87,376.60 488.36,376.33 488.86,375.92 489.22,375.52 489.45,375.15 489.54,374.94 490.32,374.94" fill="#000"/><polygon points="527.04,381.60 526.22,381.60 526.22,376.39 525.84,376.72 525.39,377.01 524.94,377.26 524.59,377.40 524.59,376.60 525.07,376.33 525.57,375.92 525.94,375.52 526.16,375.15 526.25,374.94 527.04,374.94" fill="#000"/>
<line x1="549.8" y1="344.9" x2="566.9" y2="344.9" stroke="#4DBB4D" stroke-width="1.7"/>
<text x="573.74" y="348.50" font-size="9.3" fill="#000">Lasso: 0.   (0.042)</text><polygon points="614.94,348.50 614.13,348.50 614.13,343.29 613.75,343.62 613.29,343.91 612.84,344.16 612.49,344.30 612.49,343.50 612.98,343.23 613.48,342.82 613.84,342.42 614.07,342.05 614.16,341.84 614.94,341.84" fill="#000"/><polygon points="620.11,348.50 619.30,348.50 619.30,343.29 618.92,343.62 618.47,343.91 618.01,344.16 617.66,344.30 617.66,343.50 618.15,343.23 618.65,342.82 619.01,342.42 619.24,342.05 619.33,341.84 620.11,341.84" fill="#000"/><polygon points="625.29,348.50 624.47,348.50 624.47,343.29 624.09,343.62 623.64,343.91 623.18,344.16 622.83,344.30 622.83,343.50 623.32,343.23 623.82,342.82 624.18,342.42 624.41,342.05 624.50,341.84 625.29,341.84" fill="#000"/>
<line x1="549.8" y1="355.8" x2="566.9" y2="355.8" stroke="#F2F237" stroke-width="1.7"/>
<text x="574.08" y="359.40" font-size="9.3" fill="#000">Stability: 0.08 (0.026)</text><polygon points="633.38,359.40 632.56,359.40 632.56,354.19 632.18,354.52 631.73,354.81 631.28,355.06 630.93,355.20 630.93,354.40 631.41,354.13 631.91,353.72 632.27,353.32 632.50,352.95 632.59,352.74 633.38,352.74" fill="#000"/>
<line x1="549.8" y1="366.9" x2="566.9" y2="366.9" stroke="#000000" stroke-width="1.7"/>
<text x="573.74" y="370.50" font-size="9.3" fill="#000">RND: 0.05</text>
<clipPath id="clipe"><rect x="62.3" y="617.94" width="256.4" height="160.26"/></clipPath>
<g clip-path="url(#clipe)" fill="none" stroke-linejoin="round" stroke-linecap="round">
<path d="M71.89,769.59 C73.49,768.24 77.92,763.8 81.47,761.49 C85.03,759.18 90.14,757.39 93.21,755.72 C96.28,754.05 96.96,753.17 99.92,751.5 C102.87,749.82 107.26,747.33 110.93,745.65 C114.61,743.97 118.32,742.72 121.95,741.43 C125.58,740.14 129.69,739.08 132.73,737.91 C135.76,736.73 138.12,735.44 140.15,734.39 C142.19,733.33 141.95,732.86 144.94,731.57 C147.94,730.28 153.72,728.05 158.12,726.64 C162.51,725.24 166.9,724.3 171.29,723.12 C175.68,721.95 180.07,720.89 184.46,719.6 C188.85,718.31 193.24,716.91 197.63,715.38 C202.02,713.85 206.45,711.63 210.81,710.45 C215.16,709.28 220.54,708.99 223.74,708.34 C226.93,707.69 226.29,707.17 229.97,706.58 C233.64,705.99 240.5,706.35 245.77,704.82 C251.04,703.29 256.55,699.19 261.58,697.43 C266.61,695.67 270.92,695.61 275.95,694.26 C280.98,692.91 286.25,690.39 291.76,689.33 C297.26,688.28 306.13,688.16 309,687.92" stroke="#000000" stroke-width="3.0"/>
<path d="M71.89,769.59 C73.49,768.83 77.92,766.6 81.47,765.01 C85.03,763.43 89.46,761.67 93.21,760.08 C96.96,758.5 100.44,757.03 103.99,755.51 C107.54,753.98 110.57,752.46 114.53,750.93 C118.48,749.41 123.31,748.06 127.7,746.36 C132.09,744.65 138,742.01 140.87,740.72 C143.75,739.43 139.87,740.49 144.94,738.61 C150.01,736.73 162.51,731.69 171.29,729.46 C180.07,727.23 189.97,726.64 197.63,725.24 C205.3,723.83 210.77,722.3 217.27,721.01 C223.78,719.72 227.97,719.49 236.67,717.49 C245.37,715.5 260.98,710.86 269.48,709.04 C277.98,707.23 283.33,707.4 287.68,706.58 C292.04,705.76 292.04,705.11 295.59,704.12 C299.14,703.12 306.76,701.18 309,700.6" stroke="#E69B35" stroke-width="1.5"/>
<path d="M71.89,769.59 C73.49,768.77 77.92,766.3 81.47,764.66 C85.03,763.02 89.46,761.33 93.21,759.73 C96.96,758.14 100.44,756.61 103.99,755.09 C107.54,753.56 110.33,752.03 114.53,750.58 C118.72,749.13 124.74,747.76 129.14,746.36 C133.53,744.95 138.24,743.07 140.87,742.13 C143.51,741.19 139.87,742.01 144.94,740.72 C150.01,739.43 162.51,736.85 171.29,734.39 C180.07,731.92 189.97,728.17 197.63,725.94 C205.3,723.71 211.88,722.36 217.27,721.01 C222.66,719.66 223.46,719.6 229.97,717.84 C236.47,716.08 247.53,713.09 256.31,710.45 C265.09,707.81 276.11,703.88 282.65,702 C289.2,700.13 291.2,699.89 295.59,699.19 C299.98,698.48 306.76,698.01 309,697.78" stroke="#4393DB" stroke-width="1.5"/>
<path d="M71.89,769.59 C73.49,768.18 77.92,763.49 81.47,761.14 C85.03,758.79 89.46,757.27 93.21,755.51 C96.96,753.75 99.84,752.34 103.99,750.58 C108.14,748.82 112.69,746.94 118.12,744.95 C123.55,742.95 132.49,740.25 136.56,738.61 C140.63,736.97 139.99,736.27 142.55,735.09 C145.1,733.92 147.1,733.45 151.89,731.57 C156.68,729.69 165.86,725.82 171.29,723.83 C176.72,721.83 180.07,721.36 184.46,719.6 C188.85,717.84 194.36,715.03 197.63,713.27 C200.91,711.51 200.83,710.33 204.1,709.04 C207.37,707.75 212.96,706.7 217.27,705.52 C221.58,704.35 225.65,703.12 229.97,702 C234.28,700.89 238.75,699.77 243.14,698.84 C247.53,697.9 251.92,697.25 256.31,696.37 C260.7,695.49 264.65,694.61 269.48,693.56 C274.31,692.5 280.94,691.09 285.29,690.04 C289.64,688.98 291.64,688.16 295.59,687.22 C299.54,686.28 306.76,684.87 309,684.4" stroke="#EB76B4" stroke-width="1.5"/>
<path d="M71.89,769.59 C73.49,768.44 77.92,764.68 81.47,762.69 C85.03,760.69 89.46,759.37 93.21,757.62 C96.96,755.87 100.44,754.08 103.99,752.2 C107.54,750.32 110.57,748.27 114.53,746.36 C118.48,744.44 122.63,742.72 127.7,740.72 C132.77,738.73 139.87,736.27 144.94,734.39 C150.01,732.51 153.72,730.99 158.12,729.46 C162.51,727.93 166.9,726.41 171.29,725.24 C175.68,724.06 180.07,723.12 184.46,722.42 C188.85,721.72 192.16,721.6 197.63,721.01 C203.1,720.43 211.88,719.49 217.27,718.9 C222.66,718.31 223.46,718.43 229.97,717.49 C236.47,716.55 247.53,714.68 256.31,713.27 C265.09,711.86 273.87,710.04 282.65,709.04 C291.44,708.05 304.61,707.58 309,707.28" stroke="#4DBB4D" stroke-width="1.5"/>
<path d="M71.89,769.59 C73.49,768.92 77.92,766.98 81.47,765.58 C85.03,764.17 89.46,762.58 93.21,761.14 C96.96,759.7 100.44,758.91 103.99,756.92 C107.54,754.92 110.33,751.4 114.53,749.17 C118.72,746.94 124.74,745.18 129.14,743.54 C133.53,741.9 138.24,740.49 140.87,739.32 C143.51,738.14 139.87,738.14 144.94,736.5 C150.01,734.86 162.51,731.22 171.29,729.46 C180.07,727.7 189.97,727.23 197.63,725.94 C205.3,724.65 211.04,722.54 217.27,721.72 C223.5,720.89 228.49,721.66 234.99,721.01 C241.5,720.37 248.37,719.02 256.31,717.84 C264.25,716.67 273.87,715.2 282.65,713.97 C291.44,712.74 304.61,711.04 309,710.45" stroke="#F2F237" stroke-width="1.5"/>
<line x1="62.3" y1="773.04" x2="318.7" y2="735.33" stroke="#000" stroke-width="1.6" stroke-dasharray="2.400 3.437" stroke-dashoffset="0.3" stroke-linecap="butt"/>
</g>
<rect x="62.3" y="617.94" width="256.4" height="160.26" fill="none" stroke="#111" stroke-width="1.5"/>
<line x1="69.35" y1="778.2" x2="69.35" y2="787.8" stroke="#111" stroke-width="1.4"/>
<text x="65.10" y="811.00" font-size="15.3" fill="#000">0</text>
<line x1="117.32" y1="778.2" x2="117.32" y2="787.8" stroke="#111" stroke-width="1.4"/>
<text x="108.81" y="811.00" font-size="15.3" fill="#000">20</text>
<line x1="165.29" y1="778.2" x2="165.29" y2="787.8" stroke="#111" stroke-width="1.4"/>
<text x="156.78" y="811.00" font-size="15.3" fill="#000">40</text>
<line x1="213.26" y1="778.2" x2="213.26" y2="787.8" stroke="#111" stroke-width="1.4"/>
<text x="204.75" y="811.00" font-size="15.3" fill="#000">60</text>
<line x1="261.23" y1="778.2" x2="261.23" y2="787.8" stroke="#111" stroke-width="1.4"/>
<text x="252.72" y="811.00" font-size="15.3" fill="#000">80</text>
<line x1="309.2" y1="778.2" x2="309.2" y2="787.8" stroke="#111" stroke-width="1.4"/>
<text x="296.44" y="811.00" font-size="15.3" fill="#000"> 00</text><polygon points="302.14,811.00 300.79,811.00 300.79,802.43 300.17,802.97 299.42,803.45 298.68,803.87 298.10,804.09 298.10,802.78 298.90,802.33 299.72,801.66 300.32,800.99 300.69,800.39 300.84,800.05 302.14,800.05" fill="#000"/>
<line x1="52.9" y1="772" x2="62.3" y2="772" stroke="#111" stroke-width="1.4"/>
<line x1="52.9" y1="736.73" x2="62.3" y2="736.73" stroke="#111" stroke-width="1.4"/>
<line x1="52.9" y1="701.45" x2="62.3" y2="701.45" stroke="#111" stroke-width="1.4"/>
<line x1="52.9" y1="666.17" x2="62.3" y2="666.17" stroke="#111" stroke-width="1.4"/>
<line x1="52.9" y1="630.9" x2="62.3" y2="630.9" stroke="#111" stroke-width="1.4"/>
<g transform="translate(40.70,772.00) rotate(-90)"><text x="-4.25" y="0.00" font-size="15.3" fill="#000">0</text></g>
<g transform="translate(40.70,736.73) rotate(-90)"><text x="-4.25" y="0.00" font-size="15.3" fill="#000">5</text></g>
<g transform="translate(40.70,701.45) rotate(-90)"><text x="-8.51" y="0.00" font-size="15.3" fill="#000"> 0</text><polygon points="-2.81,0.00 -4.15,0.00 -4.15,-8.57 -4.77,-8.03 -5.52,-7.55 -6.27,-7.13 -6.84,-6.91 -6.84,-8.22 -6.04,-8.67 -5.22,-9.34 -4.62,-10.01 -4.25,-10.61 -4.10,-10.95 -2.81,-10.95" fill="#000"/></g>
<g transform="translate(40.70,666.17) rotate(-90)"><text x="-8.51" y="0.00" font-size="15.3" fill="#000"> 5</text><polygon points="-2.81,0.00 -4.15,0.00 -4.15,-8.57 -4.77,-8.03 -5.52,-7.55 -6.27,-7.13 -6.84,-6.91 -6.84,-8.22 -6.04,-8.67 -5.22,-9.34 -4.62,-10.01 -4.25,-10.61 -4.10,-10.95 -2.81,-10.95" fill="#000"/></g>
<g transform="translate(40.70,630.90) rotate(-90)"><text x="-8.51" y="0.00" font-size="15.3" fill="#000">20</text></g>
<text transform="translate(17.9,697.27) rotate(-90)" text-anchor="middle" font-size="15.5">True Positives</text>
<text x="190.5" y="831.2" text-anchor="middle" font-size="15.15">number of genes selected</text>
<text x="190.5" y="854.9" text-anchor="middle" font-size="15.3">(e)</text>
<text x="158.54" y="612.2" font-size="17.8">R</text>
<text x="171.5" y="603.01" font-size="11.9">2</text>
<line x1="183.3" y1="606.3" x2="192.3" y2="606.3" stroke="#000" stroke-width="1.25"/>
<line x1="183.3" y1="610.05" x2="192.3" y2="610.05" stroke="#000" stroke-width="1.25"/>
<text x="196.81" y="612.2" font-size="17.8">0.2</text>
<line x1="66.6" y1="634.7" x2="83.8" y2="634.7" stroke="#000000" stroke-width="1.7"/>
<text x="91.54" y="638.30" font-size="9.3" fill="#000">ECAR: 0. 02(0.025)</text><polygon points="133.76,638.30 132.95,638.30 132.95,633.09 132.57,633.42 132.12,633.71 131.66,633.96 131.31,634.10 131.31,633.30 131.80,633.03 132.30,632.62 132.66,632.22 132.89,631.85 132.98,631.64 133.76,631.64" fill="#000"/>
<line x1="66.6" y1="645.8" x2="83.8" y2="645.8" stroke="#E69B35" stroke-width="1.7"/>
<text x="91.83" y="649.40" font-size="9.3" fill="#000">CAR: 0.09(0.02)</text>
<line x1="66.6" y1="656.6" x2="83.8" y2="656.6" stroke="#4393DB" stroke-width="1.7"/>
<text x="91.88" y="660.20" font-size="9.3" fill="#000">SIS: 0.086(0.0 9)</text><polygon points="154.80,660.20 153.98,660.20 153.98,654.99 153.61,655.32 153.15,655.61 152.70,655.86 152.35,656.00 152.35,655.20 152.84,654.93 153.34,654.52 153.70,654.12 153.93,653.75 154.02,653.54 154.80,653.54" fill="#000"/>
<line x1="66.6" y1="667.4" x2="83.8" y2="667.4" stroke="#EB76B4" stroke-width="1.7"/>
<text x="91.54" y="671.00" font-size="9.3" fill="#000">Ridge: 0. 02(0.027)</text><polygon points="132.22,671.00 131.41,671.00 131.41,665.79 131.03,666.12 130.58,666.41 130.12,666.66 129.77,666.80 129.77,666.00 130.26,665.73 130.76,665.32 131.12,664.92 131.35,664.55 131.44,664.34 132.22,664.34" fill="#000"/>
<line x1="190.9" y1="634.7" x2="208" y2="634.7" stroke="#4DBB4D" stroke-width="1.7"/>
<text x="215.94" y="638.30" font-size="9.3" fill="#000">Lasso: 0.08(0.024)</text>
<line x1="190.9" y1="645.8" x2="208" y2="645.8" stroke="#F2F237" stroke-width="1.7"/>
<text x="216.28" y="649.40" font-size="9.3" fill="#000">Stability: 0.074(0.0 6)</text><polygon points="296.78,649.40 295.96,649.40 295.96,644.19 295.58,644.52 295.13,644.81 294.67,645.06 294.32,645.20 294.32,644.40 294.81,644.13 295.31,643.72 295.67,643.32 295.90,642.95 295.99,642.74 296.78,642.74" fill="#000"/>
<line x1="190.9" y1="656.6" x2="208" y2="656.6" stroke="#000000" stroke-width="1.7"/>
<text x="215.94" y="660.20" font-size="9.3" fill="#000">RND: 0.05</text>
</svg></body></html>
